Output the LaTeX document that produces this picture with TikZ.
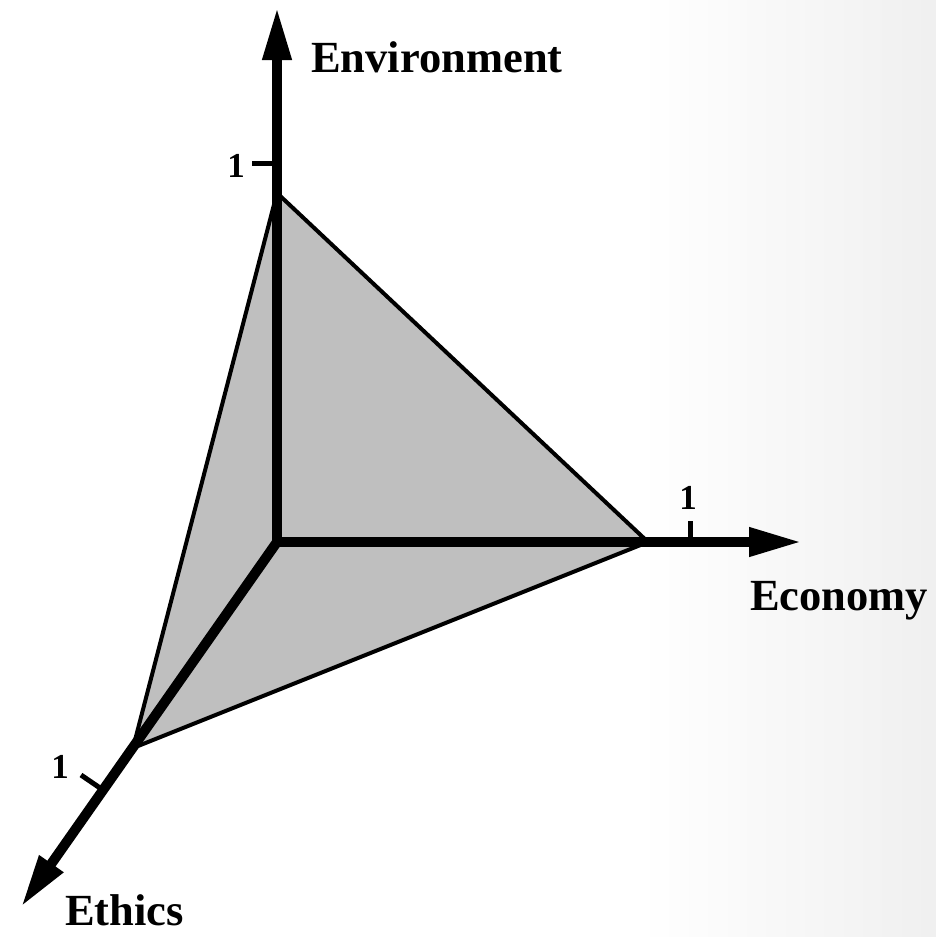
\documentclass[tikz,border=0pt]{standalone}
\usepackage{fontspec}
\setmainfont{Liberation Serif}
\usetikzlibrary{arrows.meta}
\begin{document}
\begin{tikzpicture}[x=1pt,y=-1pt,
  axis/.style={line width=10pt,-{Triangle[length=53pt,width=27pt]}},
  tri/.style={fill=black!25,draw=black,line width=4pt,line join=miter},
  tick/.style={line width=5pt},
  axlabel/.style={font=\bfseries\fontsize{44.5}{50}\selectfont,inner sep=0pt,anchor=base west},
  onelabel/.style={font=\bfseries\fontsize{35}{40}\selectfont,inner sep=0pt}]
\useasboundingbox (0,0) rectangle (936,937);
\fill[white] (0,0) rectangle (936,937);
\shade[left color=white,right color=black!6] (640,0) rectangle (936,937);
% points
\coordinate (O) at (277,542);
\coordinate (Otop) at (277,547);
\coordinate (Oleft) at (272,542);
\coordinate (Ztip) at (277,7);
\coordinate (Xtip) at (802,542);
\coordinate (Ytip) at (21,907);
\coordinate (A) at (277,193);
\coordinate (B) at (648,542);
\coordinate (C) at (133,748);
\coordinate (Zt1) at (252,163.5);
\coordinate (Zt2) at (277,163.5);
\coordinate (Xt1) at (690.5,521);
\coordinate (Xt2) at (690.5,542);
\coordinate (Yt1) at (81,775);
\coordinate (Yt2) at (103,790);
% triangle
\draw[tri] (A) -- (B) -- (C) -- cycle;
% axes
\draw[axis] (Otop) -- (Ztip);
\draw[axis] (Oleft) -- (Xtip);
\draw[axis] (O) -- (Ytip);
% ticks
\draw[tick] (Zt1) -- (Zt2);
\draw[tick] (Xt1) -- (Xt2);
\draw[tick] (Yt1) -- (Yt2);
% labels
\node[onelabel] (l1z) at (236,166) {1};
\node[onelabel] (l1x) at (688,498) {1};
\node[onelabel] (l1y) at (60,767) {1};
\node[axlabel] (env) at (311,72) {Environment};
\node[axlabel] (eco) at (750,610) {Economy};
\node[axlabel] (eth) at (65,925) {Ethics};
\end{tikzpicture}
\end{document}
